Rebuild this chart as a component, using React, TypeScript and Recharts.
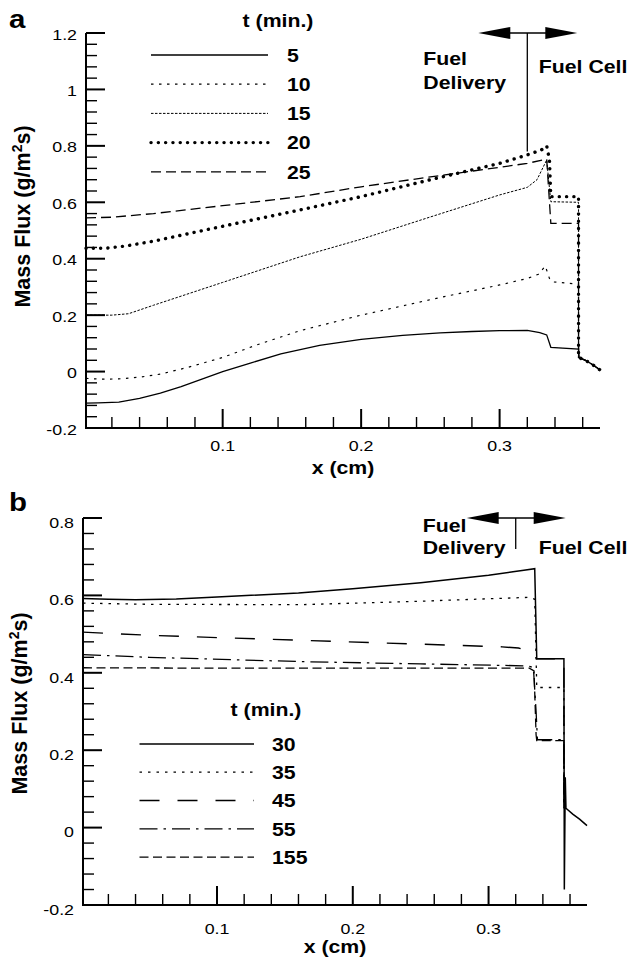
import React from 'react';
import { LineChart, Line, XAxis, YAxis, ReferenceLine, ReferenceDot } from 'recharts';

// ---------- data ----------
const X_DOMAIN: [number, number] = [0.0013, 0.3725];
const Y_DOMAIN_A: [number, number] = [-0.2, 1.2];
const Y_DOMAIN_B: [number, number] = [-0.2, 0.8];
const X_MAJOR = [0.1, 0.2, 0.3];
const Y_MAJOR_A = [-0.2, 0, 0.2, 0.4, 0.6, 0.8, 1, 1.2];
const Y_MAJOR_B = [-0.2, 0, 0.2, 0.4, 0.6, 0.8];

const LABELS_A = ['5', '10', '15', '20', '25'];
const LABELS_B = ['30', '35', '45', '55', '155'];

type P = { x: number; y: number };
const pts = (a: number[][]): P[] => a.map(([x, y]) => ({ x, y }));

const a5 = pts([[0.0013, -0.112], [0.01, -0.111], [0.025, -0.108], [0.04, -0.095], [0.055, -0.076], [0.07, -0.053], [0.085, -0.027], [0.1, 0.0], [0.12, 0.03], [0.142, 0.063], [0.17, 0.093], [0.2, 0.114], [0.23, 0.128], [0.257, 0.137], [0.28, 0.142], [0.3, 0.145], [0.32, 0.146], [0.329, 0.138], [0.334, 0.13], [0.337, 0.086], [0.357, 0.08], [0.3575, 0.05], [0.362, 0.04], [0.367, 0.025], [0.3725, 0.006]]);
const a10 = pts([[0.0013, -0.024], [0.012, -0.027], [0.025, -0.026], [0.04, -0.02], [0.055, -0.009], [0.075, 0.015], [0.1, 0.05], [0.125, 0.095], [0.156, 0.145], [0.2, 0.2], [0.25, 0.255], [0.3, 0.307], [0.32, 0.33], [0.328, 0.345], [0.333, 0.374], [0.336, 0.33], [0.338, 0.318], [0.357, 0.31], [0.357, 0.05], [0.362, 0.04], [0.367, 0.025], [0.3725, 0.006]]);
const a15 = pts([[0.0013, 0.2], [0.02, 0.2], [0.032, 0.205], [0.05, 0.235], [0.1, 0.316], [0.156, 0.407], [0.2, 0.469], [0.25, 0.548], [0.3, 0.626], [0.32, 0.653], [0.327, 0.68], [0.334, 0.75], [0.336, 0.65], [0.337, 0.602], [0.357, 0.6], [0.357, 0.05], [0.362, 0.04], [0.367, 0.025], [0.3725, 0.006]]);
const a20 = pts([[0.0013, 0.437], [0.015, 0.437], [0.03, 0.445], [0.05, 0.462], [0.1, 0.515], [0.156, 0.573], [0.2, 0.62], [0.25, 0.68], [0.3, 0.738], [0.32, 0.768], [0.33, 0.785], [0.334, 0.8], [0.336, 0.75], [0.337, 0.62], [0.357, 0.62], [0.357, 0.05], [0.362, 0.04], [0.367, 0.025], [0.3725, 0.006]]);
const a25 = pts([[0.0013, 0.545], [0.02, 0.547], [0.05, 0.56], [0.1, 0.588], [0.156, 0.62], [0.2, 0.655], [0.25, 0.69], [0.3, 0.724], [0.32, 0.738], [0.334, 0.753], [0.337, 0.525], [0.357, 0.525], [0.357, 0.05], [0.362, 0.04], [0.367, 0.025], [0.3725, 0.006]]);

const b30 = pts([[0.0013, 0.592], [0.02, 0.59], [0.04, 0.589], [0.07, 0.591], [0.1, 0.596], [0.16, 0.606], [0.2, 0.617], [0.25, 0.633], [0.3, 0.652], [0.318, 0.661], [0.326, 0.665], [0.334, 0.669], [0.3355, 0.436], [0.3555, 0.436], [0.3558, -0.16], [0.3565, 0.13], [0.357, 0.05], [0.362, 0.035], [0.367, 0.022], [0.3725, 0.005]]);
const b35 = pts([[0.0013, 0.58], [0.05, 0.577], [0.161, 0.576], [0.25, 0.585], [0.33, 0.595], [0.334, 0.59], [0.3355, 0.362], [0.3555, 0.362], [0.3555, 0.05]]);
const b45 = pts([[0.0013, 0.505], [0.05, 0.497], [0.1, 0.491], [0.161, 0.484], [0.25, 0.474], [0.31, 0.467], [0.322, 0.464], [0.329, 0.458], [0.333, 0.447], [0.3355, 0.436], [0.3555, 0.436], [0.3555, 0.05]]);
const b55 = pts([[0.0013, 0.447], [0.05, 0.44], [0.161, 0.429], [0.25, 0.423], [0.328, 0.418], [0.333, 0.414], [0.335, 0.3], [0.336, 0.227], [0.3555, 0.227], [0.3555, 0.05]]);
const b155 = pts([[0.0013, 0.413], [0.1, 0.412], [0.2, 0.412], [0.33, 0.412], [0.3335, 0.405], [0.335, 0.24], [0.3355, 0.225], [0.3555, 0.225], [0.3555, 0.05]]);

const SERIES_A = [a5, a10, a15, a20, a25];
const SERIES_B = [b30, b35, b45, b55, b155];

// ---------- styles ----------
const FONT = "'Liberation Sans', Arial, Helvetica, sans-serif";
const SX = 1.15;
const STYLE_A = [
  { w: 1.3, dash: undefined, cap: 'butt' },
  { w: 1.2, dash: '2.5 5.5', cap: 'butt' },
  { w: 1.0, dash: '2.5 1.5', cap: 'butt' },
  { w: 3.4, dash: '0.1 7.2', cap: 'round' },
  { w: 1.3, dash: '10 5', cap: 'butt' },
];
const STYLE_B = [
  { w: 1.5, dash: undefined, cap: 'butt' },
  { w: 1.3, dash: '2.5 6', cap: 'butt' },
  { w: 1.4, dash: '20 18', cap: 'butt' },
  { w: 1.3, dash: '18 6 2.5 6', cap: 'butt' },
  { w: 1.3, dash: '9 4.5', cap: 'butt' },
];

// plot geometry (chart sizes & margins)
const PLOT_A = { left: 86, right: 600, top: 33, bottom: 428 };
const PLOT_B = { left: 83, right: 587, top: 518, bottom: 905 };

const range = (a: number, b: number, s: number) => {
  const out: number[] = [];
  const n = Math.round((b - a) / s);
  for (let i = 0; i <= n; i++) out.push(Math.round((a + i * s) * 1000) / 1000);
  return out;
};
const X_TICKS = range(0.02, 0.36, 0.02);
const Y_TICKS_A = range(-0.16, 1.2, 0.04);
const Y_TICKS_B = range(-0.16, 0.8, 0.04);

const near = (v: number, list: number[]) => list.some((m) => Math.abs(m - v) < 1e-6);
const fmt = (v: number) => String(Math.round(v * 10) / 10);

const T = ({ x, y, size, bold, anchor, sx, children }: any) => (
  <text
    transform={`translate(${x},${y}) scale(${sx ?? SX},1)`}
    fontFamily={FONT}
    fontSize={size}
    fontWeight={bold ? 'bold' : 'normal'}
    textAnchor={anchor || 'start'}
    fill="#000"
  >
    {children}
  </text>
);

const makeXTick = (labelDy: number) => (props: any) => (
  <T x={Number(props.x)} y={Number(props.y) + labelDy} size={15.5} anchor="middle">{fmt(props.payload.value)}</T>
);
const makeYTick = (labelDy: number) => (props: any) => (
  <T x={Number(props.x) - 9} y={Number(props.y) + labelDy} size={15.5} anchor="end">{fmt(props.payload.value)}</T>
);

// axis frame + inward tick marks (same linear mapping as the chart axes)
const AxisFrame = ({ plot, yDomain, yTicks, yMajors }: any) => {
  const sx = (v: number) => plot.left + ((v - X_DOMAIN[0]) / (X_DOMAIN[1] - X_DOMAIN[0])) * (plot.right - plot.left);
  const sy = (v: number) => plot.bottom - ((v - yDomain[0]) / (yDomain[1] - yDomain[0])) * (plot.bottom - plot.top);
  return (
    <g>
      <line x1={plot.left} x2={plot.left} y1={plot.top} y2={plot.bottom + 1} stroke="#000" strokeWidth={2} />
      <line x1={plot.left - 1} x2={plot.right} y1={plot.bottom} y2={plot.bottom} stroke="#000" strokeWidth={2} />
      {X_TICKS.map((v) => {
        const m = near(v, X_MAJOR);
        return <line key={'x' + v} x1={sx(v)} x2={sx(v)} y1={plot.bottom} y2={plot.bottom - (m ? 19 : 11)} stroke="#000" strokeWidth={m ? 2 : 1.4} />;
      })}
      {yTicks.map((v: number) => {
        const m = near(v, yMajors);
        return <line key={'y' + v} x1={plot.left} x2={plot.left + (m ? 19 : 11)} y1={sy(v)} y2={sy(v)} stroke="#000" strokeWidth={m ? 2 : 1.4} />;
      })}
    </g>
  );
};

const Arrow = ({ cx, cy, t }: any) => (
  <g>
    <line x1={cx - 40} x2={cx + 40} y1={cy} y2={cy} stroke="#000" strokeWidth={1.3} />
    <polygon points={`${cx - 49},${cy} ${cx - 17},${cy - 6} ${cx - 17},${cy + 6}`} fill="#000" />
    <polygon points={`${cx + 50},${cy} ${cx + 18},${cy - 6} ${cx + 18},${cy + 6}`} fill="#000" />
    <T x={cx + t.fx} y={cy + t.fy} size={18.5} bold>Fuel</T>
    <T x={cx + t.fx} y={cy + t.dy} size={18.5} bold>Delivery</T>
    <T x={cx + t.cx} y={cy + t.cy} size={18.5} bold>Fuel Cell</T>
  </g>
);

const YTitle = ({ x, y }: any) => (
  <text transform={`translate(${x},${y}) rotate(-90)`} fontFamily={FONT} fontSize={21.5} fontWeight="bold" textAnchor="middle" fill="#000">
    <tspan>Mass Flux (g/m</tspan>
    <tspan dy={-8} fontSize={14}>2</tspan>
    <tspan dy={8}>s)</tspan>
  </text>
);

const LegendBlock = ({ labels, styles, title, lx1, lx2, tx, ty0, dy }: any) => (
  <g>
    <T x={title.x} y={title.y} size={18.5} bold anchor="middle">t (min.)</T>
    {labels.map((lab: string, i: number) => (
      <g key={lab}>
        <line x1={lx1} x2={lx2} y1={ty0 + i * dy} y2={ty0 + i * dy} stroke="#000" strokeWidth={styles[i].w} strokeDasharray={styles[i].dash} strokeLinecap={styles[i].cap} />
        <T x={tx} y={ty0 + i * dy + 6.7} size={18.5} bold>{lab}</T>
      </g>
    ))}
  </g>
);

function PanelA() {
  return (
    <LineChart width={627} height={480} margin={{ top: 33, right: 27, bottom: 12, left: 0 }}>
      <XAxis type="number" dataKey="x" domain={X_DOMAIN} ticks={X_MAJOR} interval={0} tickSize={0} tickMargin={0}
        stroke="#000" axisLine={{ stroke: '#000', strokeWidth: 2 }} tick={makeXTick(23)} height={40} />
      <YAxis type="number" dataKey="y" domain={Y_DOMAIN_A} ticks={Y_MAJOR_A} interval={0} tickSize={0} tickMargin={0}
        stroke="#000" axisLine={{ stroke: '#000', strokeWidth: 2 }} tick={makeYTick(6.5)} width={86} />
      {SERIES_A.map((d, i) => (
        <Line key={LABELS_A[i]} data={d} dataKey="y" name={LABELS_A[i]} type="linear" stroke="#000" strokeWidth={STYLE_A[i].w}
          strokeDasharray={STYLE_A[i].dash} strokeLinecap={STYLE_A[i].cap as any} dot={false} activeDot={false} isAnimationActive={false} />
      ))}
      <ReferenceLine segment={[{ x: 0.32, y: 1.2 }, { x: 0.32, y: 0.78 }]} stroke="#000" strokeWidth={1.3} ifOverflow="visible" />
      <ReferenceDot x={0.32} y={1.2} r={0} ifOverflow="visible"
        shape={(p: any) => <Arrow cx={p.cx} cy={p.cy} t={{ fx: -104, fy: 32.4, dy: 56, cx: 11.5, cy: 40 }} />} />
    </LineChart>
  );
}

function PanelB() {
  return (
    <LineChart width={627} height={484} margin={{ top: 38, right: 40, bottom: 19, left: 0 }}>
      <XAxis type="number" dataKey="x" domain={X_DOMAIN} ticks={X_MAJOR} interval={0} tickSize={0} tickMargin={0}
        stroke="#000" axisLine={{ stroke: '#000', strokeWidth: 2 }} tick={makeXTick(28.7)} height={40} />
      <YAxis type="number" dataKey="y" domain={Y_DOMAIN_B} ticks={Y_MAJOR_B} interval={0} tickSize={0} tickMargin={0}
        stroke="#000" axisLine={{ stroke: '#000', strokeWidth: 2 }} tick={makeYTick(9.7)} width={83} />
      {SERIES_B.map((d, i) => (
        <Line key={LABELS_B[i]} data={d} dataKey="y" name={LABELS_B[i]} type="linear" stroke="#000" strokeWidth={STYLE_B[i].w}
          strokeDasharray={STYLE_B[i].dash} strokeLinecap={STYLE_B[i].cap as any} dot={false} activeDot={false} isAnimationActive={false} />
      ))}
      <ReferenceLine segment={[{ x: 0.32, y: 0.8 }, { x: 0.32, y: 0.72 }]} stroke="#000" strokeWidth={1.3} ifOverflow="visible" />
      <ReferenceDot x={0.32} y={0.8} r={0} ifOverflow="visible"
        shape={(p: any) => <Arrow cx={p.cx} cy={p.cy} t={{ fx: -93, fy: 14, dy: 36, cx: 23, cy: 36 }} />} />
    </LineChart>
  );
}

export default function App() {
  return (
    <div style={{ position: 'absolute', left: 0, top: 0, width: 627, height: 964, background: '#fff' }}>
      <div style={{ position: 'absolute', left: 0, top: 0 }}>
        <PanelA />
      </div>
      <div style={{ position: 'absolute', left: 0, top: 480 }}>
        <PanelB />
      </div>
      <svg width={627} height={964} style={{ position: 'absolute', left: 0, top: 0, pointerEvents: 'none' }}>
        <AxisFrame plot={PLOT_A} yDomain={Y_DOMAIN_A} yTicks={Y_TICKS_A} yMajors={Y_MAJOR_A} />
        <AxisFrame plot={PLOT_B} yDomain={Y_DOMAIN_B} yTicks={Y_TICKS_B} yMajors={Y_MAJOR_B} />
        <T x={9} y={28.3} size={25.6} bold>a</T>
        <T x={9} y={511} size={25.6} bold>b</T>
        <YTitle x={30} y={216.5} />
        <YTitle x={27} y={703.5} />
        <T x={343} y={474} size={18.5} bold anchor="middle">x (cm)</T>
        <T x={335} y={953} size={18.5} bold anchor="middle">x (cm)</T>
        <LegendBlock labels={LABELS_A} styles={STYLE_A} title={{ x: 278, y: 27 }} lx1={151} lx2={268} tx={287} ty0={55} dy={29.2} />
        <LegendBlock labels={LABELS_B} styles={STYLE_B} title={{ x: 266, y: 715.6 }} lx1={139.5} lx2={254} tx={272} ty0={743.9} dy={28.3} />
      </svg>
    </div>
  );
}
